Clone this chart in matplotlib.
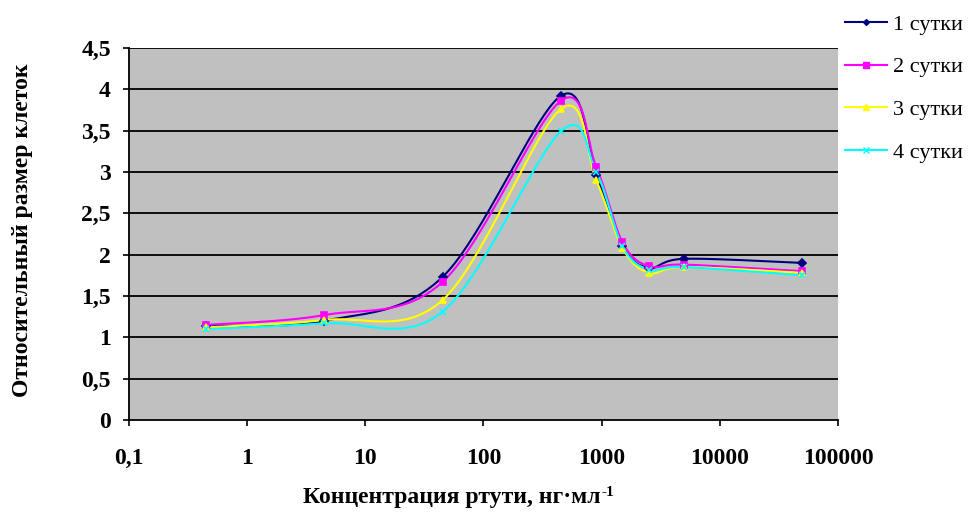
import numpy as np
import matplotlib
matplotlib.use("Agg")
import matplotlib.pyplot as plt
from matplotlib.ticker import FixedLocator, NullLocator
from matplotlib.font_manager import FontProperties

conc = [0.45, 4.5, 45, 450, 900, 1500, 2500, 5000, 50000]
day1 = [1.14, 1.20, 1.73, 3.92, 2.96, 2.10, 1.84, 1.95, 1.90]
day2 = [1.15, 1.27, 1.67, 3.86, 3.06, 2.15, 1.86, 1.88, 1.80]
day3 = [1.12, 1.21, 1.45, 3.76, 2.90, 2.08, 1.78, 1.85, 1.78]
day4 = [1.10, 1.17, 1.31, 3.49, 3.00, 2.10, 1.82, 1.85, 1.75]
labels = ["1 сутки", "2 сутки", "3 сутки", "4 сутки"]
colors = ["#000080", "#FF00FF", "#FFFF00", "#00FFFF"]
markers = ["D", "s", "^", "x"]
msizes = [4, 5, 5, 5]

xticks = [0.1, 1, 10, 100, 1000, 10000, 100000]
xticklabels = ["0,1", "1", "10", "100", "1000", "10000", "100000"]
yticks = [0, 0.5, 1, 1.5, 2, 2.5, 3, 3.5, 4, 4.5]
yticklabels = ["0", "0,5", "1", "1,5", "2", "2,5", "3", "3,5", "4", "4,5"]


def smooth(xs, ys, n=40):
    # Catmull-Rom (Excel-like smoothing) in (log10 x, y) space
    lx = np.log10(np.asarray(xs, float))
    y = np.asarray(ys, float)
    P = np.column_stack([lx, y])
    P = np.vstack([P[0], P, P[-1]])
    out = []
    for i in range(1, len(P) - 2):
        p0, p1, p2, p3 = P[i - 1], P[i], P[i + 1], P[i + 2]
        c1 = p1 + (p2 - p0) / 6.0
        c2 = p2 - (p3 - p1) / 6.0
        t = np.linspace(0, 1, n)[:, None]
        seg = ((1 - t) ** 3) * p1 + 3 * ((1 - t) ** 2) * t * c1 + 3 * (1 - t) * t ** 2 * c2 + t ** 3 * p2
        out.append(seg if i == 1 else seg[1:])
    S = np.vstack(out)
    return 10 ** S[:, 0], S[:, 1]


fig = plt.figure(figsize=(9.74, 5.15), dpi=100)
L, R, T, B = 129, 838, 48, 420
ax = fig.add_axes([L / 974, 1 - B / 515, (R - L) / 974, (B - T) / 515])
ax.set_facecolor("#C0C0C0")
ax.set_xscale("log")
ax.set_xlim(0.1, 100000)
ax.set_ylim(0, 4.5)

for yv in yticks[1:]:
    ax.axhline(yv, color="black", lw=1.3, zorder=1)

series = [day1, day2, day3, day4]
for s, c, m, ms, lab in zip(series, colors, markers, msizes, labels):
    sx, sy = smooth(conc, s)
    ax.plot(sx, sy, color=c, lw=1.5, zorder=3)
    ax.plot(conc, s, linestyle="none", marker=m, color=c, ms=ms, mew=1.2, zorder=4)
    ax.plot([], [], color=c, lw=1.5, marker=m, ms=ms - 1, label=lab)

ax.xaxis.set_major_locator(FixedLocator(xticks))
ax.xaxis.set_minor_locator(NullLocator())
ax.set_xticklabels(xticklabels)
ax.set_yticks(yticks)
ax.set_yticklabels(yticklabels)

for lbl in ax.get_xticklabels() + ax.get_yticklabels():
    lbl.set_fontfamily("Liberation Serif")
    lbl.set_fontweight("bold")
    lbl.set_fontsize(17)
ax.tick_params(axis="x", direction="out", length=4, width=1.2, pad=16)
ax.tick_params(axis="y", direction="out", length=4, width=1.2, pad=9)

for side in ["top", "right"]:
    ax.spines[side].set_visible(False)
ax.spines["left"].set_linewidth(1.3)
ax.spines["bottom"].set_linewidth(1.3)

xl = fig.text(452 / 974, 1 - 497 / 515, "Концентрация ртути, нг·мл",
              ha="center", va="center", family="Liberation Serif", weight="bold", size=17)
fig.canvas.draw()
bb = xl.get_window_extent(renderer=fig.canvas.get_renderer())
fig.text(bb.x1 / fig.bbox.width + 1 / 974, (bb.y1 + 1) / fig.bbox.height, "-1",
         ha="left", va="top", family="Liberation Serif", weight="bold", size=11)

fig.text(23 / 974, 1 - 230 / 515, "Относительный размер клеток", rotation=90,
         ha="center", va="center", family="Liberation Serif", weight="bold", size=17)

leg = fig.legend(loc="upper left", bbox_to_anchor=(845 / 974, 1 - 14 / 515), frameon=False,
                 prop=FontProperties(family="Liberation Serif", size=16), handlelength=1.9,
                 labelspacing=1.0, handletextpad=0.27, borderpad=0.0, borderaxespad=0.0)

fig.savefig("out.png", dpi=100)
